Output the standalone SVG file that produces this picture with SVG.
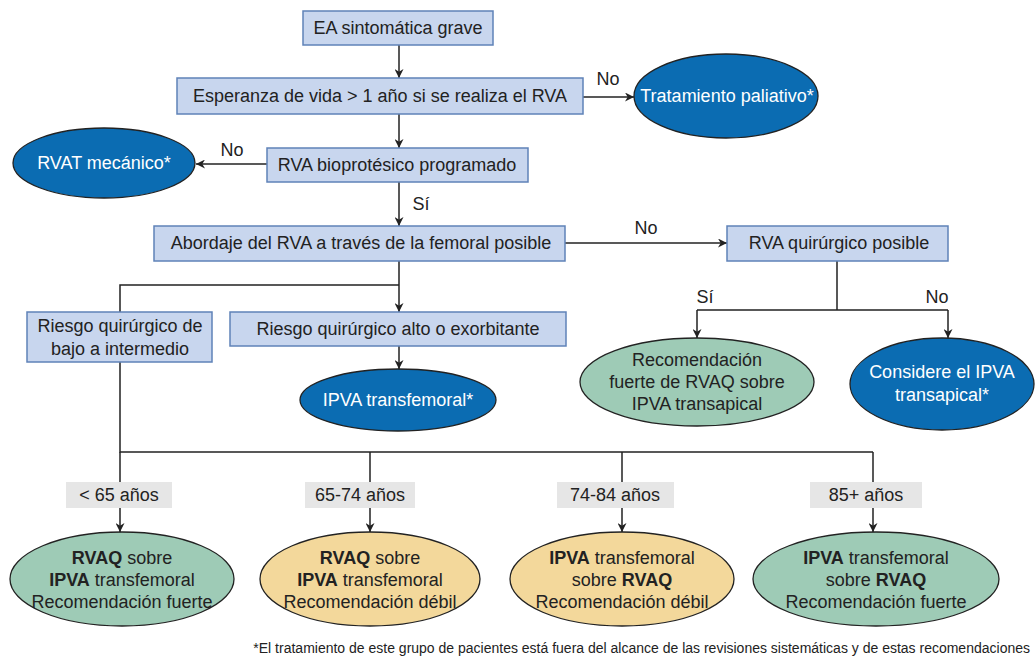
<svg xmlns="http://www.w3.org/2000/svg" width="1035" height="666" viewBox="0 0 1035 666">
<defs>
<marker id="ah" viewBox="0 0 10 10" refX="10" refY="5" markerWidth="9" markerHeight="9" markerUnits="userSpaceOnUse" orient="auto"><path d="M0,0 L10,5 L0,10 L3,5 z" fill="#222"/></marker>
<style>
text{font-family:"Liberation Sans",Arial,sans-serif;font-size:18px;fill:#222;text-anchor:middle;dominant-baseline:central}
.box{fill:#c8d6ee;stroke:#5f82b8;stroke-width:1.5}
.blue{fill:#0b6cb2;stroke:#222;stroke-width:1.3}
.green{fill:#9ecbb6;stroke:#222;stroke-width:1.3}
.yellow{fill:#f3d89b;stroke:#222;stroke-width:1.3}
.lbl{fill:#e6e6e6}
.w{fill:#fff}
.c{stroke:#222;stroke-width:1.5;fill:none}
.a{marker-end:url(#ah)}
</style>
</defs>
<rect width="1035" height="666" fill="#fff"/>
<g id="connectors">
<path class="c a" d="M399,45 V78"/>
<path class="c a" d="M583,97 H634"/>
<path class="c a" d="M399,114 V148"/>
<path class="c a" d="M267,164 H196"/>
<path class="c a" d="M399,182 V226"/>
<path class="c a" d="M565,243 H727"/>
<path class="c" d="M399,261 V285 M399,285 H120 V312"/>
<path class="c a" d="M399,285 V312"/>
<path class="c a" d="M399,346 V369"/>
<path class="c" d="M837,261 V310 M697,310 H948"/>
<path class="c a" d="M697,310 V338"/>
<path class="c a" d="M948,310 V338"/>
<path class="c" d="M120,362 V452 H873"/>
<path class="c a" d="M120,452 V532"/>
<path class="c a" d="M370,452 V532"/>
<path class="c a" d="M622,452 V532"/>
<path class="c a" d="M873,452 V532"/>
<text x="608" y="79">No</text>
<text x="232" y="150">No</text>
<text x="421" y="204">Sí</text>
<text x="646" y="228">No</text>
<text x="705" y="297">Sí</text>
<text x="937" y="297">No</text>
</g>
<g id="n1"><rect class="box" x="303" y="11" width="190" height="34"/><text x="398" y="28">EA sintomática grave</text></g>
<g id="n2"><rect class="box" x="177" y="78" width="406" height="36"/><text x="380" y="96">Esperanza de vida &gt; 1 año si se realiza el RVA</text></g>
<g id="n3"><ellipse class="blue" cx="726" cy="96" rx="92" ry="42"/><text class="w" x="727" y="96">Tratamiento paliativo*</text></g>
<g id="n4"><rect class="box" x="267" y="148" width="261" height="34"/><text x="397" y="165">RVA bioprotésico programado</text></g>
<g id="n5"><ellipse class="blue" cx="104" cy="163" rx="91" ry="35"/><text class="w" x="104" y="163">RVAT mecánico*</text></g>
<g id="n6"><rect class="box" x="154" y="226" width="411" height="35"/><text x="361" y="243">Abordaje del RVA a través de la femoral posible</text></g>
<g id="n7"><rect class="box" x="727" y="226" width="221" height="35"/><text x="839" y="243">RVA quirúrgico posible</text></g>
<g id="n8"><rect class="box" x="27" y="312" width="185" height="50"/><text x="120" y="326">Riesgo quirúrgico de</text><text x="120" y="349">bajo a intermedio</text></g>
<g id="n9"><rect class="box" x="230" y="312" width="336" height="34"/><text x="398" y="329">Riesgo quirúrgico alto o exorbitante</text></g>
<g id="n10"><ellipse class="blue" cx="398" cy="400" rx="98" ry="31"/><text class="w" x="398" y="400">IPVA transfemoral*</text></g>
<g id="n11"><ellipse class="green" cx="697" cy="382" rx="117" ry="44"/><text x="697" y="360">Recomendación</text><text x="697" y="382">fuerte de RVAQ sobre</text><text x="697" y="404">IPVA transapical</text></g>
<g id="n12"><ellipse class="blue" cx="942" cy="384" rx="92" ry="46"/><text class="w" x="942" y="372">Considere el IPVA</text><text class="w" x="942" y="395">transapical*</text></g>
<g id="l1"><rect class="lbl" x="66" y="482" width="106" height="26"/><text x="119" y="495">&lt; 65 años</text></g>
<g id="l2"><rect class="lbl" x="305" y="482" width="110" height="26"/><text x="360" y="495">65-74 años</text></g>
<g id="l3"><rect class="lbl" x="557" y="482" width="117" height="26"/><text x="615" y="495">74-84 años</text></g>
<g id="l4"><rect class="lbl" x="810" y="482" width="112" height="26"/><text x="866" y="495">85+ años</text></g>
<g id="n13"><ellipse class="green" cx="122" cy="579" rx="112" ry="47"/><text x="122" y="558"><tspan font-weight="bold">RVAQ</tspan> sobre</text><text x="122" y="580"><tspan font-weight="bold">IPVA</tspan> transfemoral</text><text x="122" y="602">Recomendación fuerte</text></g>
<g id="n14"><ellipse class="yellow" cx="370" cy="579" rx="110" ry="47"/><text x="370" y="558"><tspan font-weight="bold">RVAQ</tspan> sobre</text><text x="370" y="580"><tspan font-weight="bold">IPVA</tspan> transfemoral</text><text x="370" y="602">Recomendación débil</text></g>
<g id="n15"><ellipse class="yellow" cx="622" cy="579" rx="112" ry="47"/><text x="622" y="558"><tspan font-weight="bold">IPVA</tspan> transfemoral</text><text x="622" y="580">sobre <tspan font-weight="bold">RVAQ</tspan></text><text x="622" y="602">Recomendación débil</text></g>
<g id="n16"><ellipse class="green" cx="876" cy="579" rx="123" ry="47"/><text x="876" y="558"><tspan font-weight="bold">IPVA</tspan> transfemoral</text><text x="876" y="580">sobre <tspan font-weight="bold">RVAQ</tspan></text><text x="876" y="602">Recomendación fuerte</text></g>
<text x="1030" y="648" style="font-size:14px;text-anchor:end">*El tratamiento de este grupo de pacientes está fuera del alcance de las revisiones sistemáticas y de estas recomendaciones</text>
</svg>
